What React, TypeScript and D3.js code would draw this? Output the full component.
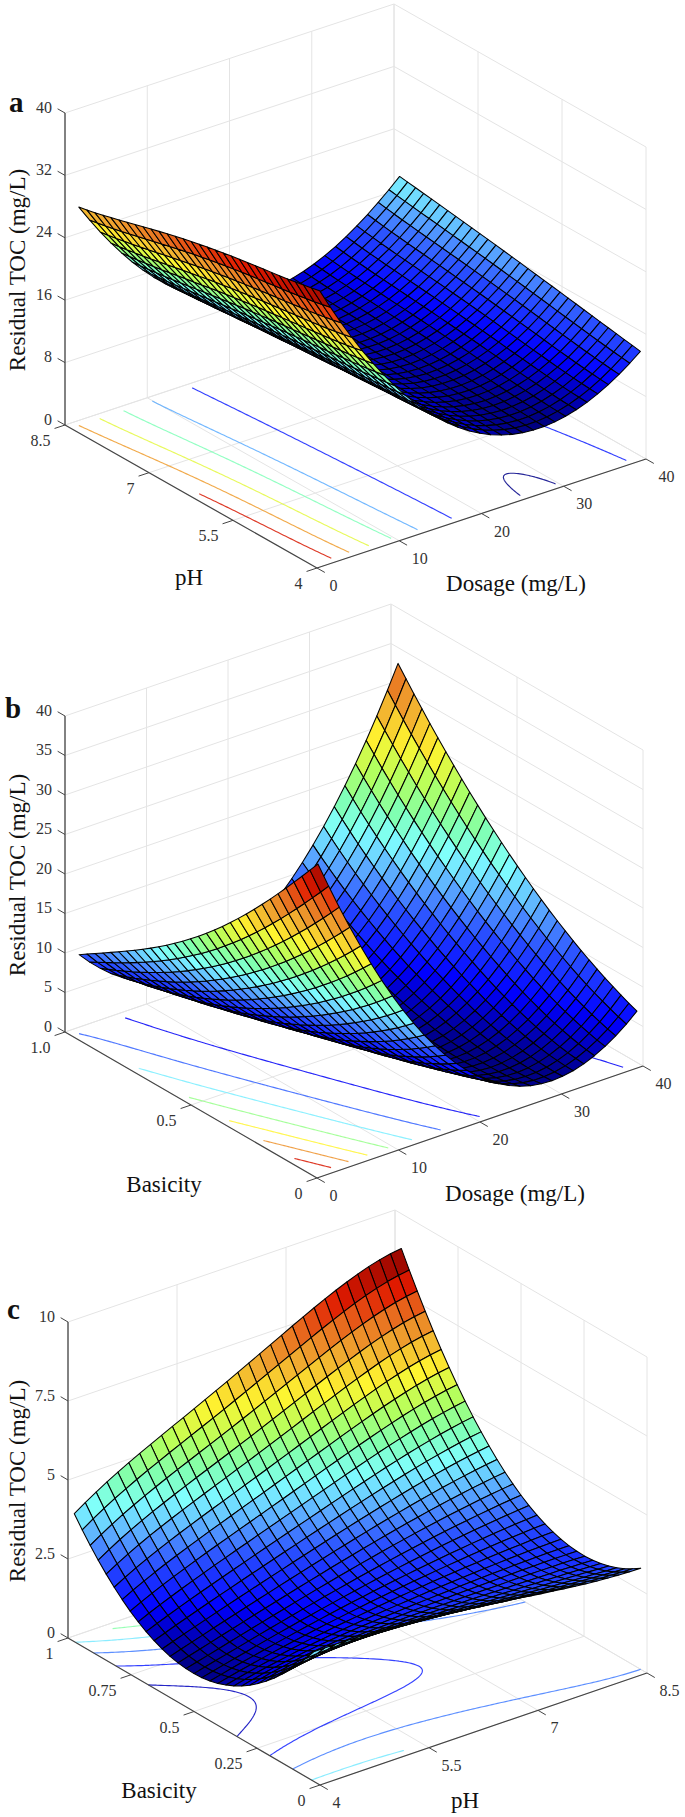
import React from "react";
import * as d3 from "d3";

// ---------- data ----------
// Panel a: rows follow pH, columns follow dosage
const aDosage = [1, 10.75, 20.5, 30.25, 40];
const aPh = [4.1, 5.175, 6.25, 7.325, 8.4];
const aResidual = [
  [34.8, 18.6, 9.7, 8.1, 13.4],
  [33.4, 17.7, 9.65, 8.7, 14.7],
  [32, 16.9, 9.6, 9.5, 16],
  [30, 16, 9.6, 10.2, 17.2],
  [28, 15.2, 9.6, 11, 18.3],
];
const aContourLevels = [8, 12, 16, 20, 24, 28, 32];
const aDosageTicks = [0, 10, 20, 30, 40];
const aPhTicks = [4, 5.5, 7, 8.5];
const aPhTickLabels = ["4", "5.5", "7", "8.5"];
const aZTicks = [0, 8, 16, 24, 32, 40];

// Panel b: rows follow basicity, columns follow dosage
const bDosage = [0.86, 10.6, 20.4, 30.2, 40];
const bBasicity = [0.024, 0.261, 0.498, 0.735, 0.972];
const bResidual = [
  [39, 18, 5.25, 1.42, 6.5],
  [29.2, 11.6, 2.4, 2.0, 10.4],
  [21.1, 7.07, 1.45, 4.5, 16.1],
  [15, 4.16, 2.1, 8.6, 23.6],
  [10, 3.14, 4.65, 14.6, 33],
];
const bContourLevels = [5, 10, 15, 20, 25, 30, 35];
const bDosageTicks = [0, 10, 20, 30, 40];
const bBasicityTicks = [0, 0.5, 1];
const bBasicityTickLabels = ["0", "0.5", "1.0"];
const bZTicks = [0, 5, 10, 15, 20, 25, 30, 35, 40];

// Panel c: rows follow basicity, columns follow pH
const cPh = [4, 5.125, 6.25, 7.375, 8.5];
const cBasicity = [0.025, 0.2625, 0.5, 0.7375, 0.975];
const cResidual = [
  [4.1, 4.02, 3.75, 3.4, 3.2],
  [1.96, 2.38, 2.5, 2.55, 2.55],
  [1.2, 1.85, 2.45, 2.95, 3.3],
  [1.9, 2.95, 3.87, 4.77, 5.43],
  [4.05, 5.5, 6.75, 8.05, 8.9],
];
const cContourLevels = [1.6, 2.4, 3.2, 4, 4.8, 5.6, 6.4, 7.2, 8];
const cPhTicks = [4, 5.5, 7, 8.5];
const cPhTickLabels = ["4", "5.5", "7", "8.5"];
const cBasicityTicks = [0, 0.25, 0.5, 0.75, 1];
const cBasicityTickLabels = ["0", "0.25", "0.5", "0.75", "1"];
const cZTicks = [0, 2.5, 5, 7.5, 10];

// ---------- colour map ----------
const mapStops = [0, 0.11, 0.22, 0.3, 0.385, 0.46, 0.54, 0.63, 0.73, 0.805, 0.885, 1];
const mapColors = ["#000080", "#0000ff", "#2a50ff", "#5aa8ff", "#80ffff", "#80ffb0", "#b0ff60", "#fff530", "#f0a830", "#e87020", "#e01a00", "#800000"];

const SERIF = "'Liberation Serif', serif";
const CELLS = 30;
const SAMPLE = 140;

type Pt = [number, number];
type Panel = {
  letter: string;
  letterPos: Pt;
  front: Pt;
  right: Pt;
  left: Pt;
  zPixels: number;
  xDomain: [number, number];
  yDomain: [number, number];
  zMax: number;
  xNodes: number[];
  yNodes: number[];
  values: number[][];
  levels: number[];
  xTicks: number[];
  xTickLabels: string[];
  yTicks: number[];
  yTickLabels: string[];
  zTicks: number[];
  xTitle: string;
  xTitlePos: Pt;
  yTitle: string;
  yTitlePos: Pt;
  zTitleY: number;
};

const panels: Panel[] = [
  {
    letter: "a", letterPos: [9, 112], front: [317, 568], right: [646, 459], left: [65, 425], zPixels: 312,
    xDomain: [0, 40], yDomain: [4, 8.5], zMax: 40,
    xNodes: aDosage, yNodes: aPh, values: aResidual, levels: aContourLevels,
    xTicks: aDosageTicks, xTickLabels: aDosageTicks.map(String),
    yTicks: aPhTicks, yTickLabels: aPhTickLabels, zTicks: aZTicks,
    xTitle: "Dosage (mg/L)", xTitlePos: [516, 591], yTitle: "pH", yTitlePos: [189, 585], zTitleY: 270,
  },
  {
    letter: "b", letterPos: [5, 718], front: [317, 1178], right: [643, 1066], left: [65, 1032], zPixels: 316,
    xDomain: [0, 40], yDomain: [0, 1], zMax: 40,
    xNodes: bDosage, yNodes: bBasicity, values: bResidual, levels: bContourLevels,
    xTicks: bDosageTicks, xTickLabels: bDosageTicks.map(String),
    yTicks: bBasicityTicks, yTickLabels: bBasicityTickLabels, zTicks: bZTicks,
    xTitle: "Dosage (mg/L)", xTitlePos: [515, 1201], yTitle: "Basicity", yTitlePos: [164, 1192], zTitleY: 875,
  },
  {
    letter: "c", letterPos: [7, 1319], front: [320, 1785], right: [647, 1673], left: [68, 1638], zPixels: 316,
    xDomain: [4, 8.5], yDomain: [0, 1], zMax: 10,
    xNodes: cPh, yNodes: cBasicity, values: cResidual, levels: cContourLevels,
    xTicks: cPhTicks, xTickLabels: cPhTickLabels,
    yTicks: cBasicityTicks, yTickLabels: cBasicityTickLabels, zTicks: cZTicks,
    xTitle: "pH", xTitlePos: [465, 1808], yTitle: "Basicity", yTitlePos: [159, 1798], zTitleY: 1481,
  },
];

function lagrange(nodes: number[], x: number): number[] {
  return nodes.map((ni, i) => {
    let w = 1;
    nodes.forEach((nj, j) => {
      if (j !== i) w *= (x - nj) / (ni - nj);
    });
    return w;
  });
}

function surfaceAt(p: Panel, x: number, y: number): number {
  const wx = lagrange(p.xNodes, x);
  const wy = lagrange(p.yNodes, y);
  let s = 0;
  wy.forEach((a, j) => wx.forEach((b, i) => { s += a * b * p.values[j][i]; }));
  return s;
}

function PanelView({ p }: { p: Panel }) {
  const sx = d3.scaleLinear().domain(p.xDomain).range([0, 1]);
  const sy = d3.scaleLinear().domain(p.yDomain).range([0, 1]);
  const sz = d3.scaleLinear().domain([0, p.zMax]).range([0, p.zPixels]);
  const project = (x: number, y: number, z: number): Pt => {
    const a = sx(x), b = sy(y);
    return [
      p.front[0] + a * (p.right[0] - p.front[0]) + b * (p.left[0] - p.front[0]),
      p.front[1] + a * (p.right[1] - p.front[1]) + b * (p.left[1] - p.front[1]) - sz(z),
    ];
  };
  const seg = (a: Pt, b: Pt) => d3.line()([a, b]) as string;

  const [x0, x1] = [p.xNodes[0], p.xNodes[p.xNodes.length - 1]];
  const [y0, y1] = [p.yNodes[0], p.yNodes[p.yNodes.length - 1]];
  const xs = d3.range(CELLS + 1).map((i) => x0 + (i / CELLS) * (x1 - x0));
  const ys = d3.range(CELLS + 1).map((j) => y0 + (j / CELLS) * (y1 - y0));
  const grid = ys.map((y) => xs.map((x) => surfaceAt(p, x, y)));

  const flat = grid.flat();
  const lo = d3.min(flat) as number;
  const hi = d3.max(flat) as number;
  const t = d3.scaleLinear().domain([lo, hi]).range([0, 1]).clamp(true);
  const jet = d3.scaleLinear<string>().domain(mapStops).range(mapColors).interpolate(d3.interpolateRgb);
  const colorOf = (z: number) => jet(t(z));

  // floor contours
  const gx = d3.range(SAMPLE).map((i) => x0 + (i / (SAMPLE - 1)) * (x1 - x0));
  const gy = d3.range(SAMPLE).map((j) => y0 + (j / (SAMPLE - 1)) * (y1 - y0));
  const sampled: number[] = [];
  gy.forEach((y) => gx.forEach((x) => sampled.push(surfaceAt(p, x, y))));
  const contourSets = d3.contours().size([SAMPLE, SAMPLE]).thresholds(p.levels)(sampled);
  const line = d3.line();
  const contourPaths: { d: string; c: string }[] = [];
  contourSets.forEach((set) => {
    set.coordinates.forEach((poly) => poly.forEach((ring) => {
      let run: Pt[] = [];
      const flush = () => {
        if (run.length > 1) contourPaths.push({ d: line(run) as string, c: colorOf(set.value) });
        run = [];
      };
      ring.forEach(([cx, cy]) => {
        if (cx <= 0.01 || cy <= 0.01 || cx >= SAMPLE - 0.01 || cy >= SAMPLE - 0.01) {
          flush();
        } else {
          const vx = x0 + ((cx - 0.5) / (SAMPLE - 1)) * (x1 - x0);
          const vy = y0 + ((cy - 0.5) / (SAMPLE - 1)) * (y1 - y0);
          run.push(project(vx, vy, 0));
        }
      });
      flush();
    }));
  });

  // mesh, painted from the far corner forward
  const quads: { d: string; c: string }[] = [];
  for (let j = CELLS - 1; j >= 0; j--) {
    for (let i = CELLS - 1; i >= 0; i--) {
      const corners = [
        project(xs[i], ys[j], grid[j][i]),
        project(xs[i + 1], ys[j], grid[j][i + 1]),
        project(xs[i + 1], ys[j + 1], grid[j + 1][i + 1]),
        project(xs[i], ys[j + 1], grid[j + 1][i]),
      ];
      const m = (grid[j][i] + grid[j][i + 1] + grid[j + 1][i + 1] + grid[j + 1][i]) / 4;
      quads.push({ d: (line(corners) as string) + "Z", c: colorOf(m) });
    }
  }

  const [xa, xb] = p.xDomain;
  const [ya, yb] = p.yDomain;
  const gridColor = "#e4e4e4";
  const wallLines: string[] = [];
  p.zTicks.forEach((z) => {
    wallLines.push(seg(project(xa, yb, z), project(xb, yb, z)));
    wallLines.push(seg(project(xb, yb, z), project(xb, ya, z)));
  });
  p.xTicks.forEach((x) => {
    wallLines.push(seg(project(x, yb, 0), project(x, yb, p.zMax)));
    wallLines.push(seg(project(x, ya, 0), project(x, yb, 0)));
  });
  p.yTicks.forEach((y) => {
    wallLines.push(seg(project(xb, y, 0), project(xb, y, p.zMax)));
    wallLines.push(seg(project(xa, y, 0), project(xb, y, 0)));
  });

  const lenY = Math.hypot(p.left[0] - p.front[0], p.left[1] - p.front[1]);
  const lenX = Math.hypot(p.right[0] - p.front[0], p.right[1] - p.front[1]);
  const uy: Pt = [(p.left[0] - p.front[0]) / lenY, (p.left[1] - p.front[1]) / lenY];
  const ux: Pt = [(p.right[0] - p.front[0]) / lenX, (p.right[1] - p.front[1]) / lenX];

  const zTop = project(xa, yb, p.zMax);
  const zBase = project(xa, yb, 0);

  return (
    <g>
      <path d={wallLines.join("")} fill="none" stroke={gridColor} strokeWidth={1} />
      {contourPaths.map((c, i) => (
        <path key={i} d={c.d} fill="none" stroke={c.c} strokeWidth={1.15} strokeOpacity={0.85} />
      ))}
      {quads.map((q, i) => (
        <path key={i} d={q.d} fill={q.c} stroke="#000" strokeWidth={1.05} strokeLinejoin="round" />
      ))}
      <path d={seg(zTop, zBase)} stroke="#666" strokeWidth={1.6} fill="none" />
      <path d={seg(p.left, p.front)} stroke="#444" strokeWidth={1.2} fill="none" />
      <path d={seg(p.front, p.right)} stroke="#444" strokeWidth={1.2} fill="none" />
      {p.zTicks.map((z) => {
        const a = project(xa, yb, z);
        return (
          <g key={z}>
            <path d={seg(a, [a[0] + uy[0] * 8.5, a[1] + uy[1] * 8.5])} stroke="#444" strokeWidth={1} />
            <text x={a[0] - 13} y={a[1] - 6} textAnchor="end" dominantBaseline="central" fontFamily={SERIF} fontSize={16} fill="#333">{String(z)}</text>
          </g>
        );
      })}
      {p.yTicks.map((y, i) => {
        const a = project(xa, y, 0);
        return (
          <g key={y}>
            <path d={seg(a, [a[0] - ux[0] * 11, a[1] - ux[1] * 11])} stroke="#444" strokeWidth={1} />
            <text x={a[0] - 14.5} y={a[1] + 15.5} textAnchor="end" dominantBaseline="central" fontFamily={SERIF} fontSize={16} fill="#333">{p.yTickLabels[i]}</text>
          </g>
        );
      })}
      {p.xTicks.map((x, i) => {
        const a = project(x, ya, 0);
        return (
          <g key={x}>
            <path d={seg(a, [a[0] - uy[0] * 9, a[1] - uy[1] * 9])} stroke="#444" strokeWidth={1} />
            <text x={a[0] + 12.5} y={a[1] + 17.5} textAnchor="start" dominantBaseline="central" fontFamily={SERIF} fontSize={16} fill="#333">{p.xTickLabels[i]}</text>
          </g>
        );
      })}
      <text x={p.xTitlePos[0]} y={p.xTitlePos[1]} textAnchor="middle" fontFamily={SERIF} fontSize={23} fill="#111">{p.xTitle}</text>
      <text x={p.yTitlePos[0]} y={p.yTitlePos[1]} textAnchor="middle" fontFamily={SERIF} fontSize={23} fill="#111">{p.yTitle}</text>
      <text transform={`translate(25,${p.zTitleY}) rotate(-90)`} textAnchor="middle" fontFamily={SERIF} fontSize={23} fill="#111">Residual TOC (mg/L)</text>
      <text x={p.letterPos[0]} y={p.letterPos[1]} fontFamily={SERIF} fontWeight="bold" fontSize={29} fill="#111">{p.letter}</text>
    </g>
  );
}

export default function App() {
  return (
    <svg width={685} height={1817} viewBox="0 0 685 1817" style={{ position: "absolute", left: 0, top: 0, display: "block", background: "#fff" }}>
      {panels.map((p) => <PanelView key={p.letter} p={p} />)}
    </svg>
  );
}
